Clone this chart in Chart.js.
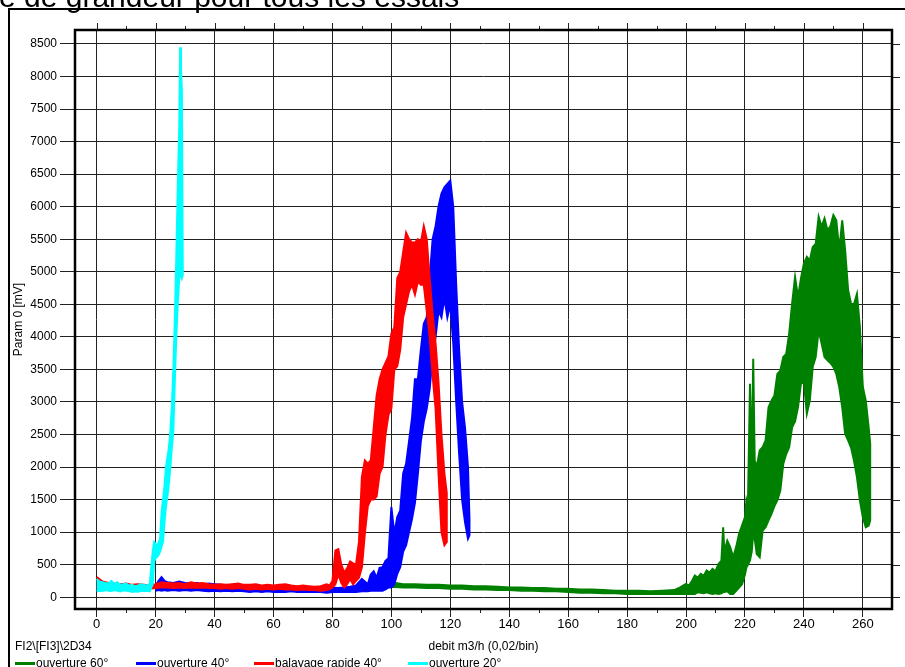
<!DOCTYPE html>
<html lang="fr">
<head>
<meta charset="UTF-8">
<title>Param 0 - debit</title>
<script src="https://cdn.jsdelivr.net/npm/chart.js"></script>
<style>
  *{margin:0;padding:0;box-sizing:border-box}
  html,body{width:905px;height:667px;overflow:hidden;background:#fff}
  .wrap{position:relative;width:905px;height:667px}
</style>
</head>
<body>
<div class="wrap"><canvas id="chart"></canvas></div>
<script>
// each series: x (debit m3/h), lower and upper edge of the noisy trace (mV)

// ouverture 60°
const greenX = [88, 90, 92, 94, 96, 98, 100, 104, 108, 112, 116, 120, 124, 128, 132, 136, 140, 144, 148, 152, 156, 160, 164, 168, 172, 176, 180, 184, 188, 192, 196, 198,
  200, 201, 202, 203, 204, 205, 206, 207, 208, 209, 210, 211, 212, 212.6, 213, 214, 215, 216, 217, 218, 219, 220, 220.5, 221, 221.7, 222.3, 222.8, 223.3,
  224, 225, 226, 227, 228, 229, 230, 231, 232, 233, 234, 235, 236, 237, 238, 239, 240, 241, 242, 243, 244, 245, 246, 247, 248, 249, 250, 251, 252, 253,
  254, 255, 256, 257, 258, 259, 260, 261, 262, 262.5];
const greenLo = [130, 140, 130, 140, 130, 150, 160, 150, 150, 140, 140, 130, 130, 120, 120, 110, 110, 100, 100, 90, 90, 80, 70, 70, 60, 60, 50, 50, 50, 50, 50, 50,
  50, 50, 50, 50, 77, 70, 60, 77, 60, 50, 60, 50, 60, 77, 80, 90, 50, 50, 100, 150, 200, 350, 460, 500, 565, 700, 975, 900,
  665, 615, 1025, 1075, 1180, 1280, 1400, 1490, 1640, 2050, 2200, 2305, 2610, 2700, 2920, 3280, 3300, 2820, 3020, 3540, 3690, 4100, 3900, 3690, 3640, 3600, 3540, 3430, 3230, 2920,
  2510, 2410, 2300, 2100, 1845, 1490, 1230, 1075, 1100, 1180];
const greenHi = [180, 200, 180, 190, 200, 210, 230, 200, 200, 190, 190, 180, 180, 170, 170, 160, 150, 150, 140, 140, 130, 130, 120, 120, 110, 100, 100, 100, 90, 100, 110, 150,
  205, 180, 250, 333, 300, 360, 330, 410, 380, 435, 400, 510, 560, 1075, 700, 870, 770, 615, 770, 975, 1100, 1230, 1490, 1400, 3280, 2000, 3665, 2100,
  2000, 2255, 2305, 2410, 2920, 3020, 3100, 3430, 3480, 3690, 3740, 4050, 4510, 4920, 4610, 4900, 5125, 5230, 5175, 5380, 5430, 5845, 5690, 5820, 5640, 5700, 5870, 5790, 5330, 5790,
  5330, 4720, 4510, 4500, 4660, 4150, 3230, 3020, 2600, 2360];

// ouverture 40°
const blueX = [20, 21, 22, 23, 24, 26, 28, 30, 32, 34, 36, 38, 40, 42, 44, 46, 48, 50, 52, 54, 56, 58, 60, 62, 64, 66, 68, 70, 72, 74, 76, 78, 80, 82, 84, 86, 88, 90, 92,
  93, 94, 95, 96, 97, 98, 99, 100, 101, 102, 103, 104, 105, 106, 107, 108, 109, 110, 111, 112, 113, 114, 115, 116, 117, 118, 119, 120, 121, 122, 123, 124, 125, 126, 126.5];
const blueLo = [100, 110, 100, 110, 100, 110, 100, 110, 100, 110, 100, 90, 100, 90, 100, 90, 100, 90, 80, 90, 80, 90, 80, 80, 80, 90, 80, 80, 80, 80, 80, 70, 80, 80, 80, 80, 80, 90, 90,
  100, 100, 100, 100, 100, 120, 150, 150, 200, 360, 460, 700, 800, 1000, 1200, 1450, 1900, 2400, 2700, 2900, 3200, 3700, 4000, 4400, 4300, 4600, 4300, 4500, 3900, 3000, 2200, 1500, 1150, 900, 950];
const blueHi = [180, 250, 310, 250, 230, 220, 240, 220, 210, 220, 200, 210, 200, 190, 180, 190, 170, 180, 170, 160, 170, 160, 150, 160, 150, 140, 150, 140, 150, 140, 150, 140, 150, 140, 150, 160, 180, 280, 200,
  350, 400, 300, 450, 460, 560, 600, 1385, 975, 1230, 1330, 1900, 2050, 2400, 2750, 3350, 3350, 3800, 4200, 4300, 4900, 5500, 5700, 6000, 6200, 6300, 6350, 6400, 6000, 4800, 3800, 3000, 2600, 2000, 1200];

// balayage rapide 40°
const redX = [0, 2, 4, 6, 8, 10, 12, 14, 16, 18, 20, 22, 24, 26, 28, 30, 32, 34, 36, 38, 40, 42, 44, 46, 48, 50, 52, 54, 56, 58, 60, 62, 64, 66, 68, 70, 72, 74, 76, 78,
  79, 80, 81, 82, 83, 84, 85, 86, 87, 88, 89, 90, 91, 92, 93, 94, 95, 96, 97, 98, 99, 100, 101, 102, 103, 104, 105, 106, 107, 108, 109, 110, 111, 112, 113, 114, 115, 116, 117, 118, 118.8];
const redLo = [150, 140, 150, 140, 150, 140, 130, 140, 130, 130, 140, 150, 150, 140, 150, 140, 150, 140, 150, 140, 140, 130, 140, 130, 140, 130, 120, 130, 120, 130, 120, 130, 120, 120, 110, 120, 110, 110, 100, 110,
  120, 150, 200, 350, 220, 150, 200, 280, 200, 250, 300, 460, 980, 1400, 1500, 1500, 1550, 1900, 2000, 2500, 2800, 2900, 3500, 3550, 3800, 4300, 4500, 4700, 4800, 4650, 4850, 4800, 4800, 4400, 4000, 3400, 2900, 1900, 1000, 800, 850];
const redHi = [310, 240, 220, 210, 200, 210, 190, 200, 190, 180, 200, 230, 220, 210, 220, 200, 230, 210, 220, 200, 190, 200, 190, 200, 210, 190, 190, 200, 180, 190, 180, 190, 200, 180, 170, 180, 170, 160, 170, 200,
  180, 250, 720, 740, 500, 380, 450, 550, 520, 500, 850, 1850, 2100, 2050, 2100, 2600, 3100, 3350, 3500, 3600, 3700, 4050, 4150, 4900, 5000, 5300, 5600, 5500, 5450, 5450, 5500, 5450, 5700, 5500, 4900, 4350, 3900, 3300, 2500, 1900, 1600];

// ouverture 20°
const cyanX = [0, 1, 2, 3, 4, 5, 6, 7, 8, 9, 10, 11, 12, 13, 14, 15, 16, 17, 18,
  19, 19.5, 20, 20.5, 21, 21.5, 22, 22.5, 23, 23.5, 24, 24.5, 25, 25.5, 26, 26.5, 27, 27.5, 28, 28.3, 28.6, 28.9, 29.2];
const cyanLo = [90, 100, 95, 110, 100, 95, 110, 100, 90, 105, 100, 95, 80, 90, 85, 100, 95, 100, 90,
  200, 550, 600, 620, 650, 700, 780, 850, 1150, 1400, 1550, 1750, 2000, 2300, 2550, 3300, 4000, 4500, 4900, 4950, 4950, 4900, 4950];
const cyanHi = [280, 240, 230, 220, 210, 250, 200, 230, 190, 200, 210, 180, 190, 170, 180, 200, 190, 180, 200,
  700, 850, 820, 780, 840, 900, 1300, 1500, 1700, 2000, 2150, 2300, 2550, 2950, 3500, 4250, 5200, 6300, 7200, 8450, 8100, 7800, 5100];

const seriesNames = ['ouverture 60°', 'ouverture 40°', 'balayage rapide 40°', 'ouverture 20°'];
const seriesColors = ['#008000', '#0000ff', '#ff0000', '#00ffff'];

const xTickValues = [0, 20, 40, 60, 80, 100, 120, 140, 160, 180, 200, 220, 240, 260];
const yTickValues = [0, 500, 1000, 1500, 2000, 2500, 3000, 3500, 4000, 4500, 5000, 5500, 6000, 6500, 7000, 7500, 8000, 8500];

const X_MIN = -7.37, X_MAX = 269.9;
const Y_MIN = -181, Y_MAX = 8715;

const FONT = '"Liberation Sans", Arial, sans-serif';

// closed outline: upper edge left to right, then lower edge back
function band(xs, lo, hi) {
  const pts = xs.map((x, i) => ({x: x, y: hi[i]}));
  for (let i = xs.length - 1; i >= 0; i--) pts.push({x: xs[i], y: lo[i]});
  return pts;
}

const extras = {
  id: 'extras',
  afterDraw(chart) {
    const {ctx, chartArea: a, scales: {x, y}} = chart;
    ctx.save();

    // tick marks above/below the plot and grid stubs past the right edge
    ctx.strokeStyle = '#222';
    ctx.lineWidth = 1;
    ctx.beginPath();
    x.ticks.forEach(t => {
      const px = Math.round(x.getPixelForValue(t.value)) + 0.5;
      ctx.moveTo(px, a.top); ctx.lineTo(px, a.top - 7);
      const mv = t.value + 10;
      if (mv < X_MAX) {
        const mx = Math.round(x.getPixelForValue(mv)) + 0.5;
        ctx.moveTo(mx, a.top); ctx.lineTo(mx, a.top - 4);
        ctx.moveTo(mx, a.bottom); ctx.lineTo(mx, a.bottom + 4);
      }
    });
    y.ticks.forEach(t => {
      const py = Math.round(y.getPixelForValue(t.value)) + 0.5;
      ctx.moveTo(a.right, py); ctx.lineTo(a.right + 8, py);
    });
    ctx.stroke();

    // plot frame
    ctx.strokeStyle = '#000';
    ctx.lineWidth = 2.5;
    ctx.strokeRect(a.left, a.top, a.right - a.left, a.bottom - a.top);

    // outer frame (runs off the page right and bottom)
    ctx.lineWidth = 2;
    ctx.beginPath();
    ctx.moveTo(9, 667); ctx.lineTo(9, 9); ctx.lineTo(905, 9);
    ctx.stroke();

    // title, cut by the top of the page
    ctx.fillStyle = '#000';
    ctx.font = '30px ' + FONT;
    ctx.textAlign = 'left';
    ctx.textBaseline = 'alphabetic';
    ctx.fillText('e de grandeur pour tous les essais', -1, 7);

    ctx.font = '12px ' + FONT;
    ctx.fillText('FI2\\[FI3]\\2D34', 15, 650);

    // legend row
    const legendX = [15, 136, 254, 408];
    chart.data.datasets.forEach((ds, i) => {
      const lx = legendX[i];
      ctx.strokeStyle = ds.borderColor;
      ctx.lineWidth = 3;
      ctx.beginPath();
      ctx.moveTo(lx, 663.5); ctx.lineTo(lx + 20, 663.5);
      ctx.stroke();
      ctx.fillStyle = '#000';
      ctx.fillText(ds.label, lx + 21, 667);
    });
    ctx.restore();
  }
};

const xsList = [greenX, blueX, redX, cyanX];
const loList = [greenLo, blueLo, redLo, cyanLo];
const hiList = [greenHi, blueHi, redHi, cyanHi];

new Chart(document.getElementById('chart'), {
  type: 'scatter',
  data: {
    datasets: seriesNames.map((name, i) => ({
      label: name,
      data: band(xsList[i], loList[i], hiList[i]),
      borderColor: seriesColors[i],
      backgroundColor: seriesColors[i],
      showLine: true,
      fill: 'shape',
      borderWidth: 2,
      borderJoinStyle: 'miter',
      pointRadius: 0,
      order: 4 - i
    }))
  },
  options: {
    responsive: true,
    maintainAspectRatio: false,
    animation: false,
    layout: {padding: {left: 10, right: 13, top: 30, bottom: 0}},
    plugins: {legend: {display: false}, tooltip: {enabled: false}},
    scales: {
      x: {
        type: 'linear', min: X_MIN, max: X_MAX,
        afterFit: s => { s.height = 58; },
        afterBuildTicks: s => { s.ticks = xTickValues.map(v => ({value: v})); },
        border: {display: false},
        grid: {color: '#222', lineWidth: 1, tickLength: 8},
        ticks: {autoSkip: false, maxRotation: 0, padding: 0, color: '#000', font: {family: FONT, size: 13},
          callback: v => String(v)},
        title: {display: true, text: 'debit m3/h (0,02/bin)', color: '#000', font: {family: FONT, size: 12}, padding: {top: 0, bottom: 13}}
      },
      y: {
        type: 'linear', min: Y_MIN, max: Y_MAX,
        afterFit: s => { s.width = 65; },
        afterBuildTicks: s => { s.ticks = yTickValues.map(v => ({value: v})); },
        border: {display: false},
        grid: {color: '#222', lineWidth: 1, tickLength: 15},
        ticks: {autoSkip: false, padding: 3, color: '#000', font: {family: FONT, size: 12},
          callback: v => String(v)},
        title: {display: true, text: 'Param 0 [mV]', color: '#000', font: {family: FONT, size: 12}, padding: {top: 1, bottom: 0}}
      }
    }
  },
  plugins: [extras]
});
</script>
</body>
</html>
